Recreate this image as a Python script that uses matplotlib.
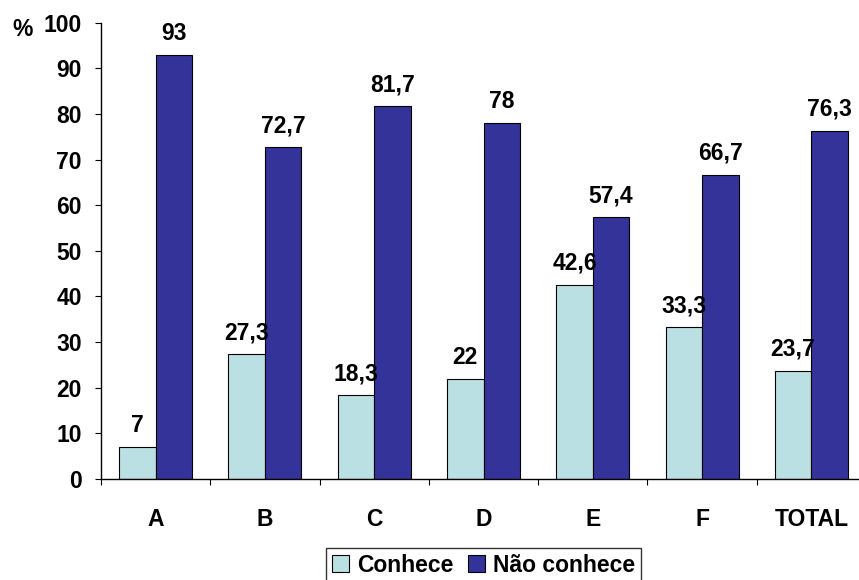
import matplotlib
matplotlib.use("Agg")
import matplotlib.pyplot as plt
import numpy as np

categories = ["A", "B", "C", "D", "E", "F", "TOTAL"]
conhece = [7, 27.3, 18.3, 22, 42.6, 33.3, 23.7]
nao_conhece = [93, 72.7, 81.7, 78, 57.4, 66.7, 76.3]
series_names = ["Conhece", "Não conhece"]
y_ticks = [0, 10, 20, 30, 40, 50, 60, 70, 80, 90, 100]

plt.rcParams["font.family"] = ["Liberation Sans", "DejaVu Sans"]
plt.rcParams["font.weight"] = "bold"
FS = 16.5

light = "#BBE0E3"
dark = "#333399"

fig = plt.figure(figsize=(8.59, 5.80), dpi=100)
ax = fig.add_axes([101 / 859, 101 / 580, 765 / 859, 456.3 / 580])

x = np.arange(len(categories))
w = 0.334
b1 = ax.bar(x - w / 2, conhece, w, color=light, edgecolor="black", linewidth=0.8, label=series_names[0])
b2 = ax.bar(x + w / 2, nao_conhece, w, color=dark, edgecolor="black", linewidth=0.8, label=series_names[1])

def fmt(v):
    s = f"{v:g}"
    return s.replace(".", ",")

for bars, vals in ((b1, conhece), (b2, nao_conhece)):
    for rect, v in zip(bars, vals):
        ax.annotate(fmt(v), (rect.get_x() + rect.get_width() / 2, v),
                    xytext=(0, 10.8), textcoords="offset points",
                    ha="center", va="baseline", fontsize=FS, fontweight="bold")

ax.set_xlim(-0.5, len(categories) - 0.5)
ax.set_ylim(0, 100)
ax.set_yticks(y_ticks)
ax.set_yticklabels([str(t) for t in y_ticks], fontsize=FS, fontweight="bold")
ax.set_xticks(x)
ax.set_xticklabels(categories, fontsize=FS, fontweight="bold")
ax.set_xticks(np.arange(len(categories) + 1) - 0.5, minor=True)

ax.tick_params(axis="y", direction="out", length=4.3, width=0.8, pad=9.5)
ax.tick_params(axis="x", which="major", length=0, pad=21)
ax.tick_params(axis="x", which="minor", direction="out", length=4.3, width=0.8)

for side in ("top", "right"):
    ax.spines[side].set_visible(False)
for side in ("left", "bottom"):
    ax.spines[side].set_linewidth(1.0)
    ax.spines[side].set_color("black")

fig.text(12 / 859, 1 - 30 / 580, "%", fontsize=FS, fontweight="bold", va="center", ha="left")

leg = fig.legend(loc="upper center", bbox_to_anchor=(483.5 / 859, 1 - 548 / 580),
                 ncol=2, fontsize=FS, frameon=True, fancybox=False,
                 handlelength=0.75, handleheight=0.75, handletextpad=0.35,
                 columnspacing=0.6, borderpad=0.25, borderaxespad=0)
leg.get_frame().set_edgecolor("black")
leg.get_frame().set_linewidth(1.0)
for t in leg.get_texts():
    t.set_fontweight("bold")

fig.savefig("out.png", dpi=100)
